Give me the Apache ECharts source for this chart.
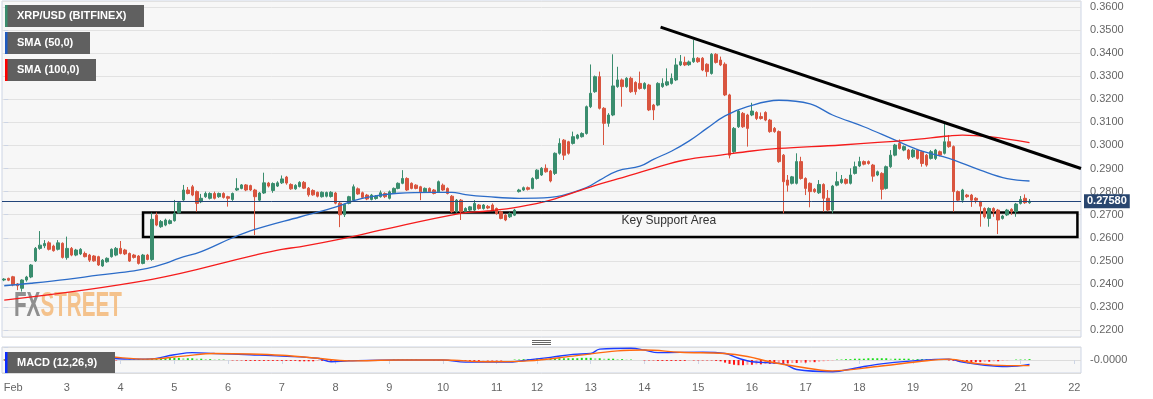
<!DOCTYPE html>
<html>
<head>
<meta charset="utf-8">
<title>XRP/USD</title>
<script src="https://cdn.jsdelivr.net/npm/echarts@6/dist/echarts.min.js"></script>
<style>
html, body { margin: 0; padding: 0; background: #fff; }
#chart { width: 1153px; height: 399px; }
</style>
</head>
<body>
<div id="chart"></div>
<script>
// 2h candles, Feb 1 20:00 -> Feb 21 04:00 (Feb 11 has a gap in the feed)
var dayStart = { 1: 20 };
var dayCount = { 1: 2, 11: 9, 22: 2 };
var firstDay = 1, lastDay = 22;

// [open, close, low, high]
var ohlc = [
  [0.2417,0.2421,0.2412,0.2425],[0.2424,0.2416,0.2412,0.2427],[0.2431,0.2396,0.2390,0.2435],[0.2400,0.2392,0.2373,0.2404],
  [0.2381,0.2417,0.2367,0.2420],[0.2417,0.2430,0.2410,0.2435],[0.2430,0.2482,0.2425,0.2486],[0.2500,0.2554,0.2495,0.2560],
  [0.2554,0.2568,0.2548,0.2629],[0.2565,0.2575,0.2555,0.2590],[0.2578,0.2550,0.2545,0.2585],[0.2564,0.2544,0.2540,0.2570],
  [0.2550,0.2578,0.2545,0.2590],[0.2576,0.2515,0.2510,0.2580],[0.2514,0.2554,0.2505,0.2605],[0.2554,0.2525,0.2520,0.2560],
  [0.2525,0.2547,0.2520,0.2552],[0.2530,0.2550,0.2525,0.2555],[0.2532,0.2518,0.2515,0.2540],[0.2525,0.2503,0.2495,0.2530],
  [0.2521,0.2500,0.2496,0.2525],[0.2518,0.2482,0.2478,0.2522],[0.2478,0.2503,0.2474,0.2508],[0.2496,0.2511,0.2492,0.2515],
  [0.2518,0.2550,0.2514,0.2554],[0.2525,0.2554,0.2520,0.2560],[0.2554,0.2532,0.2528,0.2586],[0.2547,0.2530,0.2525,0.2552],
  [0.2532,0.2499,0.2495,0.2536],[0.2525,0.2515,0.2510,0.2530],[0.2521,0.2489,0.2484,0.2525],[0.2489,0.2525,0.2485,0.2530],
  [0.2525,0.2506,0.2502,0.2530],[0.2506,0.2680,0.2500,0.2709],[0.2698,0.2655,0.2650,0.2710],[0.2648,0.2670,0.2643,0.2677],
  [0.2655,0.2677,0.2650,0.2683],[0.2662,0.2674,0.2658,0.2680],[0.2674,0.2706,0.2670,0.2764],[0.2709,0.2752,0.2705,0.2758],
  [0.2764,0.2807,0.2760,0.2829],[0.2807,0.2792,0.2788,0.2820],[0.2821,0.2785,0.2780,0.2829],[0.2800,0.2749,0.2713,0.2805],
  [0.2756,0.2771,0.2750,0.2790],[0.2778,0.2792,0.2773,0.2800],[0.2771,0.2792,0.2766,0.2797],[0.2792,0.2771,0.2766,0.2800],
  [0.2778,0.2792,0.2773,0.2796],[0.2792,0.2775,0.2770,0.2797],[0.2778,0.2771,0.2735,0.2782],[0.2766,0.2792,0.2760,0.2796],
  [0.2807,0.2814,0.2803,0.2858],[0.2814,0.2829,0.2810,0.2833],[0.2829,0.2807,0.2802,0.2833],[0.2826,0.2807,0.2803,0.2830],
  [0.2807,0.2778,0.2612,0.2812],
  [0.2763,0.2794,0.2758,0.2798],[0.2794,0.2838,0.2790,0.2882],[0.2837,0.2824,0.2818,0.2842],[0.2805,0.2835,0.2795,0.2840],
  [0.2824,0.2838,0.2820,0.2845],[0.2838,0.2855,0.2833,0.2870],[0.2863,0.2837,0.2830,0.2868],[0.2831,0.2812,0.2808,0.2836],
  [0.2812,0.2827,0.2808,0.2832],[0.2822,0.2840,0.2818,0.2845],[0.2840,0.2815,0.2811,0.2846],[0.2815,0.2786,0.2778,0.2820],
  [0.2805,0.2786,0.2782,0.2810],[0.2797,0.2780,0.2775,0.2800],[0.2778,0.2797,0.2774,0.2801],[0.2780,0.2796,0.2775,0.2800],
  [0.2779,0.2797,0.2774,0.2802],[0.2794,0.2750,0.2745,0.2799],[0.2750,0.2700,0.2646,0.2755],[0.2700,0.2745,0.2690,0.2748],
  [0.2749,0.2778,0.2745,0.2782],[0.2763,0.2821,0.2755,0.2831],[0.2812,0.2790,0.2786,0.2818],[0.2795,0.2775,0.2770,0.2800],
  [0.2785,0.2768,0.2763,0.2790],[0.2766,0.2785,0.2762,0.2790],[0.2770,0.2780,0.2765,0.2785],[0.2778,0.2795,0.2774,0.2805],
  [0.2792,0.2778,0.2772,0.2797],[0.2771,0.2799,0.2766,0.2805],[0.2795,0.2814,0.2790,0.2818],[0.2814,0.2836,0.2810,0.2840],
  [0.2836,0.2857,0.2832,0.2893],[0.2857,0.2807,0.2803,0.2862],[0.2836,0.2814,0.2810,0.2840],[0.2828,0.2814,0.2810,0.2832],
  [0.2821,0.2799,0.2763,0.2825],[0.2799,0.2814,0.2795,0.2818],[0.2814,0.2799,0.2795,0.2818],[0.2807,0.2792,0.2788,0.2811],
  [0.2799,0.2843,0.2795,0.2848],[0.2828,0.2807,0.2803,0.2835],[0.2814,0.2792,0.2788,0.2818],[0.2780,0.2713,0.2708,0.2785],
  [0.2713,0.2763,0.2708,0.2768],[0.2763,0.2713,0.2677,0.2768],[0.2713,0.2727,0.2708,0.2732],[0.2720,0.2734,0.2715,0.2738],
  [0.2720,0.2749,0.2715,0.2763],[0.2742,0.2727,0.2722,0.2746],[0.2727,0.2742,0.2722,0.2746],[0.2736,0.2729,0.2724,0.2742],
  [0.2742,0.2720,0.2715,0.2749],[0.2727,0.2705,0.2700,0.2731],[0.2713,0.2684,0.2680,0.2717],[0.2698,0.2677,0.2672,0.2702],
  [0.2691,0.2705,0.2686,0.2710],[0.2698,0.2720,0.2694,0.2725],
  [0.2800,0.2807,0.2796,0.2812],[0.2807,0.2817,0.2803,0.2822],[0.2817,0.2810,0.2805,0.2822],[0.2814,0.2857,0.2810,0.2862],
  [0.2857,0.2893,0.2852,0.2897],[0.2872,0.2901,0.2868,0.2906],[0.2901,0.2886,0.2882,0.2918],[0.2889,0.2846,0.2840,0.2894],
  [0.2879,0.2966,0.2872,0.2970],[0.2966,0.3009,0.2960,0.3031],[0.3023,0.2958,0.2937,0.3028],[0.3016,0.2966,0.2960,0.3020],
  [0.3009,0.3038,0.3004,0.3060],[0.3031,0.3045,0.3026,0.3050],[0.3038,0.3052,0.3034,0.3057],[0.3052,0.3168,0.3047,0.3173],
  [0.3168,0.3226,0.3162,0.3351],[0.3233,0.3298,0.3228,0.3303],[0.3298,0.3161,0.3156,0.3320],[0.3161,0.3096,0.3002,0.3166],
  [0.3096,0.3132,0.3081,0.3140],[0.3132,0.3258,0.3127,0.3395],[0.3255,0.3284,0.3250,0.3341],[0.3284,0.3255,0.3168,0.3290],
  [0.3255,0.3291,0.3250,0.3296],[0.3291,0.3233,0.3228,0.3298],[0.3273,0.3233,0.3220,0.3278],[0.3269,0.3247,0.3242,0.3320],
  [0.3247,0.3269,0.3242,0.3274],[0.3262,0.3154,0.3149,0.3267],[0.3175,0.3154,0.3110,0.3180],[0.3175,0.3269,0.3170,0.3274],
  [0.3255,0.3269,0.3250,0.3291],[0.3262,0.3276,0.3257,0.3334],[0.3269,0.3291,0.3264,0.3312],[0.3284,0.3349,0.3279,0.3378],
  [0.3349,0.3363,0.3344,0.3392],[0.3360,0.3349,0.3344,0.3385],[0.3350,0.3362,0.3345,0.3368],[0.3363,0.3378,0.3358,0.3457],
  [0.3378,0.3363,0.3358,0.3383],[0.3378,0.3327,0.3322,0.3383],[0.3352,0.3320,0.3298,0.3356],[0.3312,0.3395,0.3307,0.3400],
  [0.3395,0.3360,0.3355,0.3400],[0.3370,0.3349,0.3344,0.3385],[0.3352,0.3219,0.3214,0.3360],[0.3219,0.2958,0.2944,0.3224],
  [0.2973,0.3074,0.2968,0.3080],[0.3081,0.3149,0.3076,0.3154],[0.3139,0.3081,0.3076,0.3145],[0.3132,0.3074,0.2995,0.3137],
  [0.3132,0.3149,0.3127,0.3185],[0.3143,0.3117,0.3110,0.3148],[0.3125,0.3117,0.3112,0.3143],[0.3143,0.3110,0.3105,0.3148],
  [0.3110,0.3060,0.3055,0.3115],[0.3074,0.3060,0.3055,0.3080],[0.3060,0.2930,0.2925,0.3065],[0.2958,0.2843,0.2706,0.2963],
  [0.2850,0.2828,0.2800,0.2872],[0.2836,0.2864,0.2831,0.2868],[0.2836,0.2930,0.2831,0.2966],[0.2930,0.2857,0.2852,0.2951],
  [0.2857,0.2814,0.2785,0.2862],[0.2836,0.2800,0.2732,0.2840],[0.2810,0.2800,0.2795,0.2815],[0.2795,0.2831,0.2790,0.2850],
  [0.2831,0.2771,0.2713,0.2836],[0.2771,0.2720,0.2715,0.2807],[0.2720,0.2824,0.2706,0.2829],[0.2828,0.2843,0.2823,0.2886],
  [0.2839,0.2853,0.2834,0.2872],[0.2853,0.2836,0.2831,0.2858],[0.2836,0.2872,0.2831,0.2901],[0.2879,0.2908,0.2874,0.2930],
  [0.2911,0.2930,0.2906,0.2951],[0.2930,0.2919,0.2914,0.2935],[0.2930,0.2922,0.2917,0.2935],[0.2915,0.2867,0.2843,0.2920],
  [0.2872,0.2886,0.2867,0.2891],[0.2879,0.2810,0.2766,0.2884],[0.2814,0.2908,0.2809,0.2913],[0.2908,0.2958,0.2903,0.2980],
  [0.2958,0.3002,0.2953,0.3007],[0.3009,0.2987,0.2982,0.3026],[0.2980,0.2995,0.2975,0.3000],[0.2980,0.2944,0.2937,0.2985],
  [0.2951,0.2980,0.2946,0.2985],[0.2980,0.2944,0.2939,0.2985],[0.2973,0.2922,0.2908,0.2978],[0.2958,0.2915,0.2908,0.2963],
  [0.2944,0.2973,0.2939,0.2980],[0.2944,0.2980,0.2937,0.2985],[0.2973,0.2958,0.2953,0.2978],[0.2966,0.3016,0.2961,0.3096],
  [0.3016,0.2995,0.2990,0.3045],[0.2995,0.2800,0.2713,0.3000],[0.2800,0.2763,0.2758,0.2805],[0.2763,0.2807,0.2752,0.2812],
  [0.2785,0.2778,0.2773,0.2790],[0.2785,0.2763,0.2734,0.2790],[0.2771,0.2763,0.2749,0.2776],[0.2756,0.2737,0.2648,0.2760],
  [0.2727,0.2691,0.2684,0.2732],[0.2684,0.2727,0.2648,0.2732],[0.2727,0.2713,0.2691,0.2732],[0.2720,0.2677,0.2616,0.2725],
  [0.2684,0.2694,0.2679,0.2699],[0.2699,0.2720,0.2694,0.2725],[0.2723,0.2713,0.2699,0.2728],[0.2713,0.2746,0.2691,0.2751],
  [0.2749,0.2766,0.2744,0.2781],[0.2771,0.2752,0.2747,0.2788],[0.2752,0.2758,0.2747,0.2768]
];

// moving averages: [candle index, price]
var sma50 = [
  [0,0.2392],[6,0.2403],[14,0.2420],[21,0.2438],[29,0.2457],[32,0.2467],[36,0.2489],[39,0.2511],[44,0.2540],
  [51,0.2600],[56,0.2636],[66,0.2690],[73,0.2727],[78,0.2760],[81,0.2775],[88,0.2793],[96,0.2797],[100,0.2797],
  [103,0.2787],[108,0.2778],[115,0.2771],[122,0.2775],[130,0.2817],[133,0.2850],[137,0.2890],[142,0.2910],
  [145,0.2940],[149,0.2975],[153,0.3020],[157,0.3075],[161,0.3128],[166,0.3168],[173,0.3196],[180,0.3180],
  [185,0.3132],[192,0.3081],[199,0.3023],[205,0.2975],[211,0.2944],[218,0.2893],[224,0.2856],[229,0.2846]
];
var sma100 = [
  [0,0.2330],[33,0.2420],[56,0.2525],[62,0.2550],[66,0.2561],[77,0.2602],[84,0.2633],[102,0.2706],[108,0.2716],
  [115,0.2734],[122,0.2763],[130,0.2814],[137,0.2855],[145,0.2901],[152,0.2937],[160,0.2958],[167,0.2976],
  [173,0.2987],[187,0.3002],[202,0.3023],[211,0.3041],[214,0.3045],[220,0.3038],[229,0.3012]
];

// MACD (12,26,9)
var macdLine = [
  [0,0],[6,0.0001],[9,0.0008],[11,0.0010],[14,0.0009],[21,0.0006],[29,0.0002],[32,0.0002],[38,0.0012],[42,0.0017],
  [47,0.0015],[55,0.0012],[62,0.0009],[70,0.0004],[73,-0.0004],[77,-0.0002],[88,0],[98,0],[103,-0.0005],[112,-0.0005],
  [117,0],[122,0.0006],[127,0.0013],[131,0.0015],[133,0.0025],[140,0.0027],[143,0.0023],[146,0.0017],[156,0.0018],
  [161,0.0015],[164,0.0004],[167,-0.0004],[174,-0.0009],[177,-0.0022],[185,-0.0027],[190,-0.0019],[195,-0.0010],
  [203,-0.0002],[211,0.0002],[214,-0.0005],[219,-0.0012],[224,-0.0015],[229,-0.0010]
];
var signalLine = [
  [0,0],[14,0.0006],[21,0.0008],[32,0.0002],[40,0.0009],[47,0.0015],[55,0.0014],[62,0.0011],[70,0.0004],[77,-0.0002],
  [88,0],[98,0],[108,-0.0004],[117,-0.0002],[127,0.0009],[137,0.0021],[143,0.0023],[151,0.0018],[161,0.0015],
  [166,0.0008],[171,-0.0004],[177,-0.0015],[185,-0.0025],[195,-0.0015],[204,-0.0004],[211,0.0002],[217,-0.0008],
  [224,-0.0013],[229,-0.0013]
];
var histUnit = 0.0001;
var macdHist = [
  1,1,1,2,2,3,
  3,4,4,4,3,3,2,2,1,
  0,-1,-1,-2,-2,-2,-2,-2,-1,-1,-1,0,0,1,1,
  2,2,3,3,4,4,4,5,5,5,4,4,4,3,3,2,2,1,1,1,0,
  -1,-1,-1,-2,-2,-2,-2,-2,-2,-2,-2,-2,-2,-2,-2,-3,-3,-3,-3,-2,-2,-2,-2,-2,-2,-2,-2,-1,-1,-1,-1,-1,-1,-1,0,0,
  1,1,1,1,1,1,0,0,0,-1,-1,-1,-1,
  -2,-2,-2,-2,-2,-2,-2,-1,-1,-1,-1,-1,0,0,
  1,1,2,2,2,3,3,3,3,3,4,4,4,4,4,5,5,5,4,4,3,3,3,2,2,1,1,
  0,0,-1,-1,-1,-2,-2,-2,-2,-2,-2,-2,-1,-1,-1,-1,-1,-1,-2,-3,
  -6,-9,-11,-12,-12,-11,-11,-10,-10,-9,-9,-9,-8,-8,-8,-7,-7,-6,-6,-5,-5,-4,-3,-2,-1,
  1,1,2,2,3,3,3,4,4,4,4,4,3,3,3,3,3,2,2,2,2,1,1,1,0,
  -1,-2,-3,-4,-4,-5,-5,-5,-4,-4,-3,-3,
  -2,-1,0,1,1,1,2
];

// drawn annotations: [index, price]
var trendLine = [[146.6, 0.3513], [240.5, 0.2900]];
var supportBox = [[31, 0.2709], [239.7, 0.2603]];

// categories
var categories = [], catDay = [], catHour = [];
for (var d = firstDay; d <= lastDay; d++) {
  var n = dayCount[d] || 12;
  var h0 = dayStart[d] || 0;
  for (var k = 0; k < n; k++) {
    var h = h0 + k * 2;
    categories.push('Feb ' + d + ' ' + (h < 10 ? '0' : '') + h + ':00');
    catDay.push(d);
    catHour.push(h);
  }
}
var lastIdx = categories.length - 1 + 0.5;
var lastPrice = ohlc[ohlc.length - 1][1];

function dayLabel(index) { return catHour[index] === 0; }

var up = '#3a8d6e', down = '#d9553f';
var border = '#cdd5e5';

var chart = echarts.init(document.getElementById('chart'));
chart.setOption({
  animation: false,
  backgroundColor: '#ffffff',
  textStyle: { fontFamily: 'Liberation Sans, Arial, sans-serif' },
  grid: [
    { left: 2, right: 72, top: 1, height: 336, show: true, backgroundColor: '#f7f7f7', borderColor: border, borderWidth: 1 },
    { left: 2, right: 72, top: 347, height: 26, show: true, backgroundColor: '#f7f7f7', borderColor: border, borderWidth: 1 }
  ],
  xAxis: [
    { type: 'category', gridIndex: 0, data: categories, boundaryGap: true,
      axisLine: { show: false }, axisTick: { show: false }, axisLabel: { show: false }, splitLine: { show: false } },
    { type: 'category', gridIndex: 1, data: categories, boundaryGap: true,
      axisLine: { show: false },
      axisTick: { show: true, interval: dayLabel, alignWithLabel: true, length: 4, lineStyle: { color: border } },
      axisLabel: { interval: dayLabel, color: '#666', fontSize: 11, margin: 9,
        formatter: function (v, i) { return catDay[i] === 2 ? 'Feb' : String(catDay[i]); } },
      splitLine: { show: false } },
    { type: 'value', gridIndex: 0, min: -0.5, max: lastIdx, show: false },
    { type: 'value', gridIndex: 1, min: -0.5, max: lastIdx, show: false }
  ],
  yAxis: [
    { type: 'value', gridIndex: 0, position: 'right', min: 0.217, max: 0.3626, splitNumber: 14, scale: true,
      axisLine: { show: false },
      axisTick: { show: true, length: 4, lineStyle: { color: border } },
      axisLabel: { color: '#666', fontSize: 11, margin: 9, showMinLabel: false, showMaxLabel: false,
        formatter: function (v) { return v.toFixed(4); } },
      splitLine: { show: true, lineStyle: { color: '#e2e2e2', width: 1 } } },
    { type: 'value', gridIndex: 1, position: 'right', min: -0.003, max: 0.003, interval: 0.003,
      axisLine: { show: false },
      axisTick: { show: true, length: 4, lineStyle: { color: border } },
      axisLabel: { color: '#666', fontSize: 11, margin: 9,
        formatter: function (v) { return Math.abs(v) < 1e-9 ? '-0.0000' : ''; } },
      splitLine: { show: true, lineStyle: { color: '#dcdcdc', width: 1 } } }
  ],
  series: [
    {
      name: 'XRP/USD', type: 'candlestick', xAxisIndex: 0, yAxisIndex: 0, z: 2,
      data: ohlc, barWidth: 3, silent: true,
      itemStyle: { color: up, color0: down, borderColor: up, borderColor0: down, borderWidth: 1 }
    },
    { name: 'SMA (50,0)', type: 'line', xAxisIndex: 2, yAxisIndex: 0, z: 3, data: sma50, smooth: 0.4,
      showSymbol: false, silent: true, lineStyle: { color: '#2c6cc8', width: 1.3 } },
    { name: 'SMA (100,0)', type: 'line', xAxisIndex: 2, yAxisIndex: 0, z: 3, data: sma100, smooth: 0.4,
      showSymbol: false, silent: true, lineStyle: { color: '#f51c1c', width: 1.3 } },
    {
      name: 'trend', type: 'line', xAxisIndex: 2, yAxisIndex: 0, z: 4, data: trendLine,
      showSymbol: false, silent: true, lineStyle: { color: '#000', width: 3 },
      markLine: {
        silent: true, symbol: ['none', 'none'], precision: 5,
        data: [{ yAxis: lastPrice }],
        lineStyle: { color: '#22457a', width: 1, type: 'solid' },
        label: { show: true, position: 'end', distance: 3, formatter: lastPrice.toFixed(5),
          backgroundColor: '#29466f', color: '#fff', fontWeight: 'bold', fontSize: 11, padding: [2, 3, 1, 3] }
      },
      markArea: {
        silent: true,
        itemStyle: { color: 'rgba(0,0,0,0)', borderColor: '#000', borderWidth: 2.5 },
        label: { show: true, position: ['51.2%', 3], color: '#333', fontSize: 12, formatter: 'Key Support Area' },
        data: [[{ coord: supportBox[0] }, { coord: supportBox[1] }]]
      }
    },
    {
      name: 'hist', type: 'bar', xAxisIndex: 1, yAxisIndex: 1, barWidth: 2, silent: true,
      data: macdHist.map(function (v) { return v * histUnit; }),
      itemStyle: {
        color: function (p) {
          var v = macdHist[p.dataIndex], prev = p.dataIndex > 0 ? macdHist[p.dataIndex - 1] : 0;
          if (v >= 0) return v >= prev ? '#19dd19' : '#8ee88e';
          return v <= prev ? '#ff1414' : '#ff9d9d';
        }
      }
    },
    { name: 'MACD', type: 'line', xAxisIndex: 3, yAxisIndex: 1, data: macdLine, smooth: 0.4,
      showSymbol: false, silent: true, lineStyle: { color: '#1d3dff', width: 1.4 } },
    { name: 'Signal', type: 'line', xAxisIndex: 3, yAxisIndex: 1, data: signalLine, smooth: 0.4,
      showSymbol: false, silent: true, lineStyle: { color: '#ff6a10', width: 1.4 } }
  ],
  graphic: [
    // watermark
    { type: 'text', x: 14, y: 306, z: 1, silent: true, scaleX: 0.59,
      style: { text: 'FX', fill: '#8f8f8f', font: 'bold 35px "Liberation Sans", Arial', textVerticalAlign: 'middle' } },
    { type: 'text', x: 40.4, y: 306, z: 1, silent: true, scaleX: 0.59,
      style: { text: 'STREET', fill: '#f4c28c', font: 'bold 35px "Liberation Sans", Arial', textVerticalAlign: 'middle' } },
    // legend tags
    { type: 'rect', shape: { x: 5, y: 5, width: 139, height: 22 }, style: { fill: '#606060' }, z: 10 },
    { type: 'rect', shape: { x: 5, y: 5, width: 2.5, height: 22 }, style: { fill: '#3a8d6e' }, z: 11 },
    { type: 'text', x: 17, y: 16, z: 11, style: { text: 'XRP/USD (BITFINEX)', fill: '#fff', font: 'bold 11px "Liberation Sans", Arial', textVerticalAlign: 'middle' } },
    { type: 'rect', shape: { x: 5, y: 32, width: 85, height: 22 }, style: { fill: '#606060' }, z: 10 },
    { type: 'rect', shape: { x: 5, y: 32, width: 2.5, height: 22 }, style: { fill: '#1f5bc0' }, z: 11 },
    { type: 'text', x: 17, y: 43, z: 11, style: { text: 'SMA (50,0)', fill: '#fff', font: 'bold 11px "Liberation Sans", Arial', textVerticalAlign: 'middle' } },
    { type: 'rect', shape: { x: 5, y: 59, width: 91, height: 22 }, style: { fill: '#606060' }, z: 10 },
    { type: 'rect', shape: { x: 5, y: 59, width: 2.5, height: 22 }, style: { fill: '#ff0000' }, z: 11 },
    { type: 'text', x: 17, y: 70, z: 11, style: { text: 'SMA (100,0)', fill: '#fff', font: 'bold 11px "Liberation Sans", Arial', textVerticalAlign: 'middle' } },
    { type: 'rect', shape: { x: 5, y: 352, width: 110, height: 21 }, style: { fill: '#606060' }, z: 10 },
    { type: 'rect', shape: { x: 5, y: 352, width: 2.5, height: 21 }, style: { fill: '#0a2cff' }, z: 11 },
    { type: 'text', x: 17, y: 362.5, z: 11, style: { text: 'MACD (12,26,9)', fill: '#fff', font: 'bold 11px "Liberation Sans", Arial', textVerticalAlign: 'middle' } },
    // pane splitter handle
    { type: 'line', shape: { x1: 532, y1: 340.5, x2: 551, y2: 340.5 }, style: { stroke: '#666', lineWidth: 1 } },
    { type: 'line', shape: { x1: 532, y1: 342.5, x2: 551, y2: 342.5 }, style: { stroke: '#666', lineWidth: 1 } },
    { type: 'line', shape: { x1: 532, y1: 344.5, x2: 551, y2: 344.5 }, style: { stroke: '#666', lineWidth: 1 } }
  ]
});
</script>
</body>
</html>
